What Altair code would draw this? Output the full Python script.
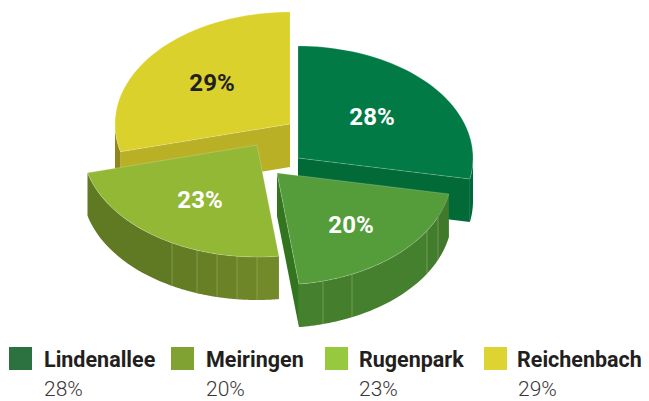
import math
import altair as alt
import pandas as pd

# ---- data ----
names = ["Lindenallee", "Meiringen", "Rugenpark", "Reichenbach"]
shares = [28, 20, 23, 29]
labels = ["28%", "20%", "23%", "29%"]
top_colors = ["#027a45", "#559d3b", "#92b836", "#dbd12d"]
cut_colors = ["#016a37", "#33751f", "#7f9f2e", "#b9b025"]
legend_colors = ["#2c7241", "#80a233", "#96c93d", "#ddd331"]
label_colors = ["white", "white", "white", "#231f20"]

# ---- layout (image pixels) ----
OFF = 8
RX, RY, DEPTH = 175, 112, 43
apex = [(298, 158), (277, 173), (257, 145), (290, 124)]
seams = [[], [323, 352, 427, 438], [172, 197, 217, 237, 257], []]
side_tones = [
    ["#01683a"],
    ["#40792c", "#427d2d", "#44802e", "#457f2e", "#45802e"],
    ["#5f7a22", "#647d24", "#677f25", "#6b8227", "#6e8528", "#728a2a"],
    ["#8f871a"],
]
label_pos = [(372, 118), (351, 226), (200, 201), (212, 84)]
swatch_x = [9, 171, 325, 484]
name_x = [44, 206, 359, 517]
value_x = [44, 206, 359, 518]

cum = [0]
for s in shares:
    cum.append(cum[-1] + s)
ang = [c * 3.6 for c in cum]


def pt(i, deg, dy=0):
    t = math.radians(deg)
    ax, ay = apex[i]
    return (ax + RX * math.sin(t) - OFF, ay - RY * math.cos(t) + dy - OFF)


def arc(i, a, b, dy=0, n=50):
    return [pt(i, a + (b - a) * k / n, dy) for k in range(n + 1)]


def feature(coords, color, kind="Polygon"):
    pts = [list(p) for p in coords]
    if kind == "Polygon":
        pts = [pts + [pts[0]]]
    return {"type": "Feature", "properties": {"color": color},
            "geometry": {"type": kind, "coordinates": pts}}


def seam_angle(i, x):
    # back from a seam's x position to its angle on the front of the rim
    return 180 - math.degrees(math.asin((x - apex[i][0]) / RX))


def outer_side(i, a, b):
    out, lines = [], []
    marks = sorted(seam_angle(i, x) for x in seams[i])
    cuts = [a] + [m for m in marks if a < m < b] + [b]
    tones = side_tones[i]
    if i == 2:
        tones = tones[::-1]
    for k in range(len(cuts) - 1):
        top = arc(i, cuts[k], cuts[k + 1], n=20)
        bottom = arc(i, cuts[k], cuts[k + 1], DEPTH, n=20)
        out.append(feature(top + bottom[::-1], tones[min(k, len(tones) - 1)]))
    for m in cuts[1:-1]:
        lines.append(feature([pt(i, m), pt(i, m, DEPTH)], "#a9bb78", "LineString"))
    return out, lines


def cut_face(i, deg):
    ax, ay = apex[i]
    p, q = pt(i, deg), pt(i, deg, DEPTH)
    return feature([(ax - OFF, ay - OFF), p, q, (ax - OFF, ay + DEPTH - OFF)], cut_colors[i])


proj = alt.Projection(type="identity", scale=1, translate=[0, 0])
color = alt.Color("properties.color:N", scale=None, legend=None)


def shapes(features, **mark):
    return alt.Chart(alt.Data(values=features)).mark_geoshape(**mark).encode(color=color).project(**proj.to_dict())


layers = []
plan = [
    (3, [(ang[3], 270)], [ang[3]]),
    (0, [(90, ang[1])], [ang[1]]),
    (2, [(ang[2], ang[3])], []),
    (1, [(ang[1], ang[2])], [ang[2]]),
]
for i, rims, cuts in plan:
    side = []
    lines = []
    for d in cuts:
        side.append(cut_face(i, d))
    for a, b in rims:
        o, l = outer_side(i, a, b)
        side += o
        lines += l
    layers.append(shapes(side, strokeWidth=0))
    if lines:
        layers.append(alt.Chart(alt.Data(values=lines)).mark_geoshape(filled=False, strokeWidth=0.8, stroke="#a9bb78", strokeOpacity=0.6).project(**proj.to_dict()))
    face = [(apex[i][0] - OFF, apex[i][1] - OFF)] + arc(i, ang[i], ang[i + 1])
    layers.append(shapes([feature(face, top_colors[i])], stroke="#ffffff", strokeWidth=0.7, strokeOpacity=0.3))

FONT = "Roboto"
x_plain = alt.X("x:Q", scale=None, axis=None)
y_plain = alt.Y("y:Q", scale=None, axis=None)

pct = pd.DataFrame({
    "x": [p[0] - OFF for p in label_pos],
    "y": [p[1] - OFF for p in label_pos],
    "t": labels,
    "c": label_colors,
})
layers.append(alt.Chart(pct).mark_text(font=FONT, fontWeight="bold", fontSize=24, align="center", baseline="middle").encode(
    x=x_plain, y=y_plain, text="t:N", color=alt.Color("c:N", scale=None, legend=None)))

sw = pd.DataFrame({
    "x": [x - OFF for x in swatch_x],
    "x2": [x + 23 - OFF for x in swatch_x],
    "y": [347 - OFF] * 4,
    "y2": [370 - OFF] * 4,
    "c": legend_colors,
})
layers.append(alt.Chart(sw).mark_rect().encode(
    x=x_plain, x2="x2:Q", y=y_plain, y2="y2:Q", color=alt.Color("c:N", scale=None, legend=None)))

leg = pd.DataFrame({"x": [x - OFF for x in name_x], "y": [367 - OFF] * 4, "t": names})
layers.append(alt.Chart(leg).mark_text(font=FONT, fontWeight="bold", fontSize=21.5, align="left", baseline="alphabetic", color="#231f20").encode(
    x=x_plain, y=y_plain, text="t:N"))

leg2 = pd.DataFrame({"x": [x - OFF for x in value_x], "y": [396 - OFF] * 4, "t": labels})
layers.append(alt.Chart(leg2).mark_text(font=FONT, fontWeight=300, fontSize=21, align="left", baseline="alphabetic", color="#3a3637").encode(
    x=x_plain, y=y_plain, text="t:N"))

chart = alt.layer(*layers).properties(
    width=633, height=393, padding=0, autosize=alt.AutoSizeParams(type="none"), background="white"
).configure_view(stroke=None)

chart.save("out.html", embed_options={"renderer": "svg", "actions": False})
